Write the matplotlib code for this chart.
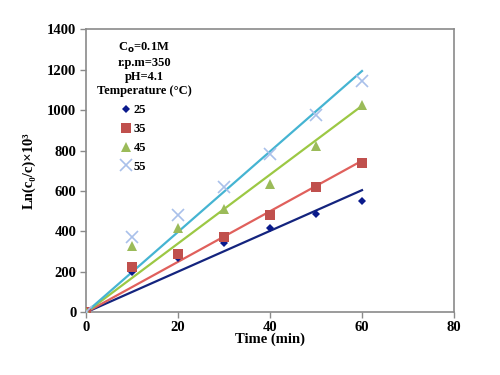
import numpy as np
import matplotlib
matplotlib.use("Agg")
import matplotlib.pyplot as plt
from matplotlib.lines import Line2D

plt.rcParams["font.family"] = ["Liberation Serif", "DejaVu Serif"]
plt.rcParams["font.weight"] = "bold"

time = [0, 10, 20, 30, 40, 50, 60]
temps = ["25", "35", "45", "55"]
ln_25 = [0, 200, 270, 343, 418, 485, 550]
ln_35 = [0, 225, 288, 375, 480, 620, 738]
ln_45 = [0, 330, 417, 513, 633, 822, 1025]
ln_55 = [0, 375, 483, 620, 785, 978, 1145]

series = [ln_25, ln_35, ln_45, ln_55]
markers = ["D", "s", "^", "x"]
msize = [4, 7, 7, 8]
mcolors = ["#0a1a8c", "#c0504d", "#9bbb59", "#a9c0ea"]
lcolors = ["#14247e", "#e0605c", "#9cc844", "#45b4d2"]

fig = plt.figure(figsize=(5, 3.75), dpi=100)
ax = fig.add_axes([0.172, 0.167, 0.736, 0.755])

x = np.array(time, dtype=float)
handles = []
for vals, m, ms, mc, lc, t in zip(series, markers, msize, mcolors, lcolors, temps):
    y = np.array(vals, dtype=float)
    # linear trend through origin, as in the original sheet
    k = (x * y).sum() / (x * x).sum()
    ax.plot(x, k * x, color=lc, linewidth=1.6, zorder=2)
    kw = dict(markeredgewidth=1.2) if m == "x" else dict(markeredgewidth=0)
    ax.plot(x, y, linestyle="none", marker=m, markersize=ms, color=mc, zorder=3, **kw)
    handles.append(Line2D([], [], linestyle="none", marker=m, markersize=ms,
                          color=mc, label=t, **kw))

ax.set_xlim(0, 80)
ax.set_ylim(0, 1400)
ax.set_xticks(range(0, 81, 20))
ax.set_yticks(range(0, 1401, 200))
for s in ax.spines.values():
    s.set_color("#8a8a8a")
    s.set_linewidth(1.2)
ax.tick_params(direction="out", length=4, width=1, color="#8a8a8a",
               labelsize=10.5, pad=3)
ax.tick_params(axis="x", pad=2)
for lab in ax.get_xticklabels() + ax.get_yticklabels():
    lab.set_fontweight("bold")

ax.set_xlabel("Time (min)", fontsize=10.5, fontweight="bold", labelpad=-1)
ax.set_ylabel("Ln(c\u2080/c)\u00d710\u00b3", fontsize=10.5, fontweight="bold",
              labelpad=8)

info = "C$_\\mathbf{o}$=0.1M\nr.p.m=350\npH=4.1\nTemperature (°C)"
ax.text(0.158, 0.96, info, transform=ax.transAxes, ha="center", va="top",
        fontsize=9, fontweight="bold", linespacing=1.25)

ax.legend(handles=handles, loc="upper left", bbox_to_anchor=(0.065, 0.775),
          frameon=False, handlelength=0.8, handletextpad=0.2,
          labelspacing=0.55, prop=dict(size=9, weight="bold"))

fig.savefig("out.png", dpi=100)
